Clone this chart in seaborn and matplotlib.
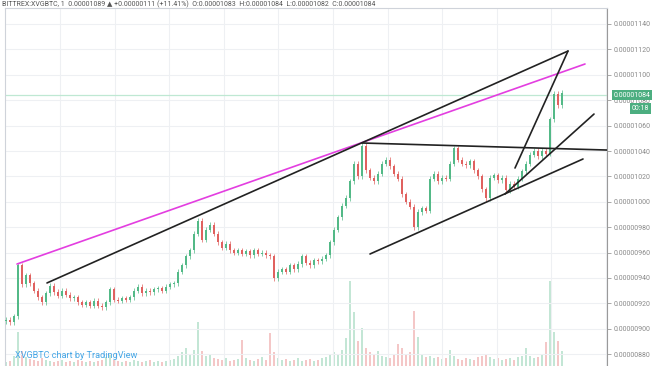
import numpy as np
import pandas as pd
import matplotlib
matplotlib.use("Agg")
import matplotlib.pyplot as plt
import matplotlib.transforms as mtransforms
import seaborn as sns

# ---------------- data (prices in units of 1e-8 BTC) ----------------
closes = [907, 905, 910, 950, 935, 942, 936, 930, 925, 921,
          928, 934, 929, 926, 930, 927, 924, 925, 921, 919,
          921, 918, 922, 918, 917, 921, 931, 923, 922, 924,
          923, 925, 930, 933, 928, 930, 929, 931, 932, 930,
          933, 935, 936, 945, 950, 957, 962, 975, 985, 970,
          978, 982, 975, 968, 964, 967, 962, 960, 962, 959,
          961, 958, 962, 959, 960, 958, 957, 940, 945, 947,
          945, 950, 947, 951, 957, 952, 950, 954, 953, 955,
          958, 968, 978, 988, 997, 1003, 1016, 1030, 1020, 1044,
          1025, 1019, 1016, 1022, 1030, 1033, 1028, 1022, 1018, 1006,
          1000, 996, 980, 992, 995, 993, 1018, 1022, 1016, 1019,
          1018, 1030, 1042, 1033, 1030, 1029, 1032, 1025, 1020, 1010,
          1003, 1019, 1021, 1017, 1019, 1009, 1014, 1012, 1018, 1024,
          1030, 1037, 1040, 1036, 1040, 1038, 1065, 1085, 1076, 1086]
first_open = 906

volumes = [4, 5, 10, 34, 15, 9, 7, 6, 5, 8,
           6, 5, 4, 5, 6, 4, 5, 4, 6, 5,
           4, 5, 4, 5, 6, 9, 12, 6, 5, 4,
           5, 4, 6, 5, 4, 5, 6, 4, 5, 4,
           5, 6, 7, 10, 14, 18, 12, 16, 44, 15,
           10, 12, 8, 7, 6, 8, 5, 6, 7, 26,
           8, 6, 5, 7, 9, 6, 33, 14, 8, 6,
           7, 5, 6, 8, 5, 6, 7, 5, 6, 8,
           9, 11, 14, 12, 16, 28, 85, 54, 25, 38,
           18, 14, 12, 15, 10, 9, 8, 11, 22, 18,
           12, 14, 55, 29, 12, 9, 10, 8, 9, 7,
           8, 16, 10, 7, 6, 8, 7, 6, 9, 10,
           12, 9, 7, 8, 6, 7, 8, 6, 9, 10,
           18, 10, 8, 9, 12, 24, 85, 34, 25, 15]

price_ticks = [880, 900, 920, 940, 960, 980, 1000, 1020, 1040, 1060,
               1080, 1100, 1120, 1140]
last_price = 1084
countdown = "00:18"
symbol_header = ("BITTREX:XVGBTC, 1  0.00001089 \u25b2 +0.00000111 (+11.41%)  "
                 "O:0.00001083  H:0.00001084  L:0.00001082  C:0.00001084")
watermark = "XVGBTC chart by TradingView"

# trend lines drawn on the chart (candle index, price)
pink_line_x = [2.75, 144.75]
pink_line_y = [951.0, 1108.5]
upper_line_x = [10.25, 140.5]
upper_line_y = [936.1, 1118.7]
steep_line_x = [127.25, 140.5]
steep_line_y = [1026.6, 1118.7]
neck_line_x = [89, 152]
neck_line_y = [1046.3, 1040.6]
lower_line_x = [91, 144.25]
lower_line_y = [958.9, 1033.7]
support_line_x = [124.75, 147]
support_line_y = [1006.1, 1069.1]

# ---------------- figure ----------------
sns.set_style("white")
plt.rcParams['font.family'] = ['Roboto', 'DejaVu Sans']

W, H = 654, 366
fig = plt.figure(figsize=(W / 100, H / 100), dpi=100)
ax_l, ax_r, ax_t, ax_b = 5, 607, 8, 366
ax = fig.add_axes([ax_l / W, 1 - ax_b / H, (ax_r - ax_l) / W, (ax_b - ax_t) / H])
axv = ax.twinx()

n = len(closes)
idx = np.arange(n)
opens = np.array([first_open] + closes[:-1], dtype=float)
cl = np.array(closes, dtype=float)
up = cl >= opens
up_col, dn_col = "#53b987", "#e0615f"
cols = np.where(up, up_col, dn_col)

df = pd.DataFrame({"idx": idx, "open": opens, "close": cl,
                   "vol": volumes, "dir": np.where(up, "up", "down")})

# volume (behind)
axv.set_zorder(0)
ax.set_zorder(1)
ax.patch.set_visible(False)
axv.bar(df["idx"], df["vol"], width=0.6,
        color=[up_col if u else dn_col for u in up], alpha=0.35, linewidth=0)
axv.set_ylim(0, ax_b - ax_t)
axv.set_yticks([])
for s in axv.spines.values():
    s.set_visible(False)

# grid
xmin, xmax = -0.25, 150.25
ymin = 1140 - (ax_b - 24) * 20 / 25.4
ymax = 1140 + (24 - ax_t) * 20 / 25.4
for t in price_ticks:
    ax.axhline(t, color="#eef0f3", lw=0.8, zorder=0)
for k in range(11):
    ax.axvline(13.5 + 13.65 * k, color="#eef0f3", lw=0.8, zorder=0)

# candles
bh = np.abs(cl - opens)
bh = np.where(bh < 0.6, 0.6, bh)
ax.bar(df["idx"], bh, bottom=np.minimum(cl, opens), width=0.45,
       color=cols, linewidth=0, zorder=3)
ax.vlines(df["idx"], np.minimum(cl, opens) - 2.0, np.maximum(cl, opens) + 2.0,
          colors=cols, lw=0.5, zorder=3)

# current price line
ax.axhline(last_price, color="#bfe8d3", lw=0.9, zorder=2)

# trend lines
def tline(xs, ys, color, lw=1.2):
    d = pd.DataFrame({"x": xs, "y": ys})
    sns.lineplot(data=d, x="x", y="y", ax=ax, color=color, lw=lw,
                 zorder=4, legend=False, sort=False)

tline(pink_line_x, pink_line_y, "#e33ee0")
tline(upper_line_x, upper_line_y, "#222222")
tline(steep_line_x, steep_line_y, "#222222")
tline(neck_line_x, neck_line_y, "#222222")
tline(lower_line_x, lower_line_y, "#222222")
tline(support_line_x, support_line_y, "#222222")

ax.set_xlim(xmin, xmax)
ax.set_ylim(ymin, ymax)
ax.set_xlabel("")
ax.set_ylabel("")
ax.set_xticks([])
ax.yaxis.tick_right()
ax.set_yticks(price_ticks)
ax.set_yticklabels([f"{t * 1e-8:.8f}" for t in price_ticks])
ax.tick_params(axis="y", direction="out", length=3, width=0.6, color="#9a9a9a",
               labelsize=5.0, labelcolor="#8a8a8a", pad=2, right=True, left=False)
for s in ["left", "top"]:
    ax.spines[s].set_color("#cfd3da")
    ax.spines[s].set_linewidth(0.8)
ax.spines["right"].set_color("#9a9a9a")
ax.spines["right"].set_linewidth(0.8)
ax.spines["bottom"].set_visible(False)

# price label boxes
tr = mtransforms.blended_transform_factory(ax.transAxes, ax.transData)
ax.text(1.011, last_price, f"{last_price * 1e-8:.8f}", transform=tr,
        fontsize=5.0, color="white", va="center", ha="left", zorder=6,
        bbox=dict(boxstyle="square,pad=0.25", fc="#4cae80", ec="none"))
fig.text(649 / W, 1 - 108.5 / H, countdown,
         fontsize=5.0, color="white", va="center", ha="right", zorder=6,
         bbox=dict(boxstyle="square,pad=0.25", fc="#4cae80", ec="none"))

# header and watermark
fig.text(2 / W, 1 - 0.5 / H, symbol_header, fontsize=5.0, color="#555555",
         va="top", ha="left")
fig.text(15 / W, 1 - 355 / H, watermark, fontsize=6.6, color="#45a6e6",
         va="center", ha="left")

fig.savefig("out.png", dpi=100)
